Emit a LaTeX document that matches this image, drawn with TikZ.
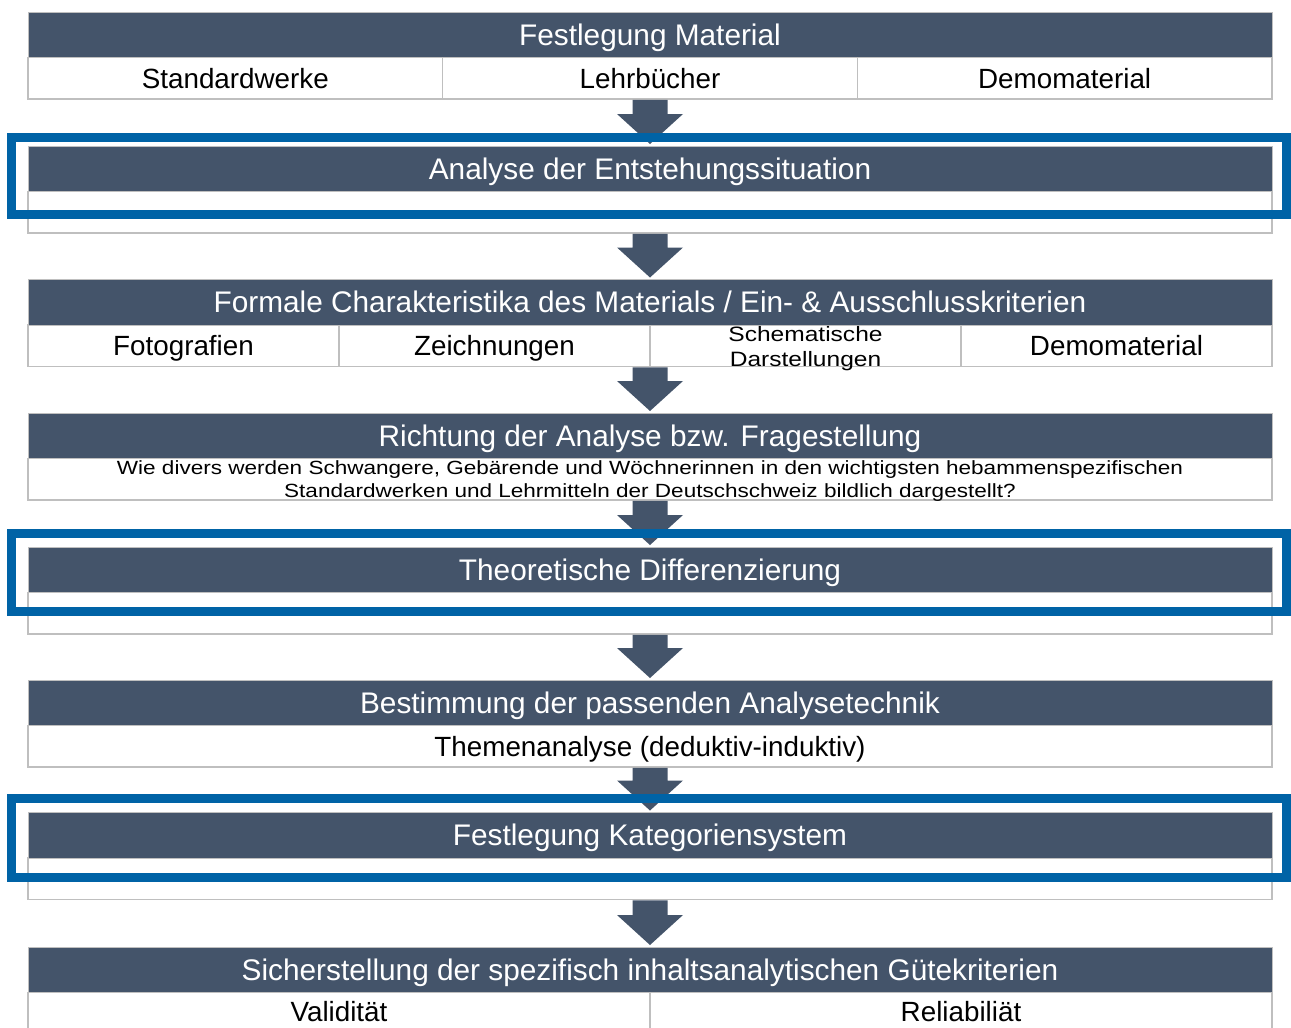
\documentclass[tikz,border=0pt]{standalone}
\usepackage{fontspec}
\setmainfont{Liberation Sans}
\newfontfamily\stretchfont{Liberation Sans}[FakeStretch=1.18]
\usetikzlibrary{calc}
\definecolor{hdrcol}{HTML}{44546A}
\definecolor{framecol}{RGB}{0,99,166}
\definecolor{cellline}{HTML}{BFBFBF}
\tikzset{
  hdr/.style={fill=hdrcol, draw=cellline, line width=1pt, minimum width=1244pt,
    minimum height=45.5pt, inner sep=0pt, text=white,
    font=\fontsize{29.8}{34}\selectfont, text height=21.3pt, text depth=0pt},
  cellbox/.style={fill=white, draw=cellline, line width=1.5pt, minimum height=41.5pt,
    inner sep=0pt, text=black, font=\fontsize{27.8}{32}\selectfont, align=center},
  cell/.style={cellbox, text height=19.9pt, text depth=0pt},
  celltext/.style={inner sep=0pt, text=black, align=center},
  blueframe/.style={draw=framecol, line width=9pt},
}
\newcommand\fatarrow[2]{%
  \fill[hdrcol] let \p1=(#1.south), \p2=(#2.north) in
    (\x2-17.5pt,\y1) -- (\x2+17.5pt,\y1) -- (\x2+17.5pt,\y2+31.5pt) --
    (\x2+33pt,\y2+31.5pt) -- (\x2,\y2+1.5pt) -- (\x2-33pt,\y2+31.5pt) --
    (\x2-17.5pt,\y2+31.5pt) -- cycle;}
\begin{document}
\begin{tikzpicture}[x=1pt,y=-1pt]
\useasboundingbox (0,0) rectangle (1291,1028);
\clip (0,0) rectangle (1291,1028);
\fill[white] (0,0) rectangle (1291,1028);

% Box 1
\node[cell, minimum width=414.667pt] (r1a) at (235.333,78.25) {Standardwerke};
\node[cell, minimum width=414.667pt] (r1b) at (650,78.25) {Lehrbücher};
\node[cell, minimum width=414.667pt] (r1c) at (1064.667,78.25) {Demomaterial};
\node[hdr] (h1) at (650,34.75) {Festlegung Material};

% Box 2
\node[cell, minimum width=1244pt] (r2) at (650,212.25) {};
\node[hdr] (h2) at (650,168.75) {Analyse der Entstehungssituation};

% Box 3
\node[cell, minimum width=311pt] (r3a) at (183.5,345.75) {Fotografien};
\node[cell, minimum width=311pt] (r3b) at (494.5,345.75) {Zeichnungen};
\node[cell, minimum width=311pt] (r3c) at (805.5,345.75) {};
\node[cell, minimum width=311pt] (r3d) at (1116.5,345.75) {Demomaterial};
\node[hdr] (h3) at (650,302.25) {Formale Charakteristika des Materials / Ein- \& Ausschlusskriterien};
\node[celltext, font=\stretchfont\fontsize{20.8}{24.5}\selectfont] (r3ctext) at (805.5,348.5) {Schematische\\Darstellungen};

% Box 4
\node[cell, minimum width=1244pt] (r4) at (650,479.25) {};
\node[hdr] (h4) at (650,435.75) {Richtung der Analyse bzw. Fragestellung};
\node[celltext, font=\stretchfont\fontsize{19.1}{22.5}\selectfont] (r4text) at (650,481.2) {Wie divers werden Schwangere, Gebärende und Wöchnerinnen in den wichtigsten hebammenspezifischen\\Standardwerken und Lehrmitteln der Deutschschweiz bildlich dargestellt?};

% Box 5
\node[cell, minimum width=1244pt] (r5) at (650,613.25) {};
\node[hdr] (h5) at (650,569.75) {Theoretische Differenzierung};

% Box 6
\node[cell, minimum width=1244pt] (r6) at (650,746.25) {Themenanalyse (deduktiv-induktiv)};
\node[hdr] (h6) at (650,702.75) {Bestimmung der passenden Analysetechnik};

% Box 7
\node[cell, minimum width=1244pt] (r7) at (650,878.75) {};
\node[hdr] (h7) at (650,835.25) {Festlegung Kategoriensystem};

% Box 8
\node[cell, minimum width=622pt, text depth=3pt] (r8a) at (339,1013.25) {Validität};
\node[cell, minimum width=622pt, text depth=3pt] (r8b) at (961,1013.25) {Reliabiliät};
\node[hdr] (h8) at (650,969.75) {Sicherstellung der spezifisch inhaltsanalytischen Gütekriterien};

% Arrows
\fatarrow{r1b}{h2}
\fatarrow{r2}{h3}
\fatarrow{r3b}{h4}
\fatarrow{r4}{h5}
\fatarrow{r5}{h6}
\fatarrow{r6}{h7}
\fatarrow{r7}{h8}

% Highlight frames
\draw[blueframe] (11.5,137.5) rectangle (1286.5,214.5);
\draw[blueframe] (11.5,533) rectangle (1286.5,611.5);
\draw[blueframe] (11.5,798.5) rectangle (1286.5,877.5);
\end{tikzpicture}
\end{document}
